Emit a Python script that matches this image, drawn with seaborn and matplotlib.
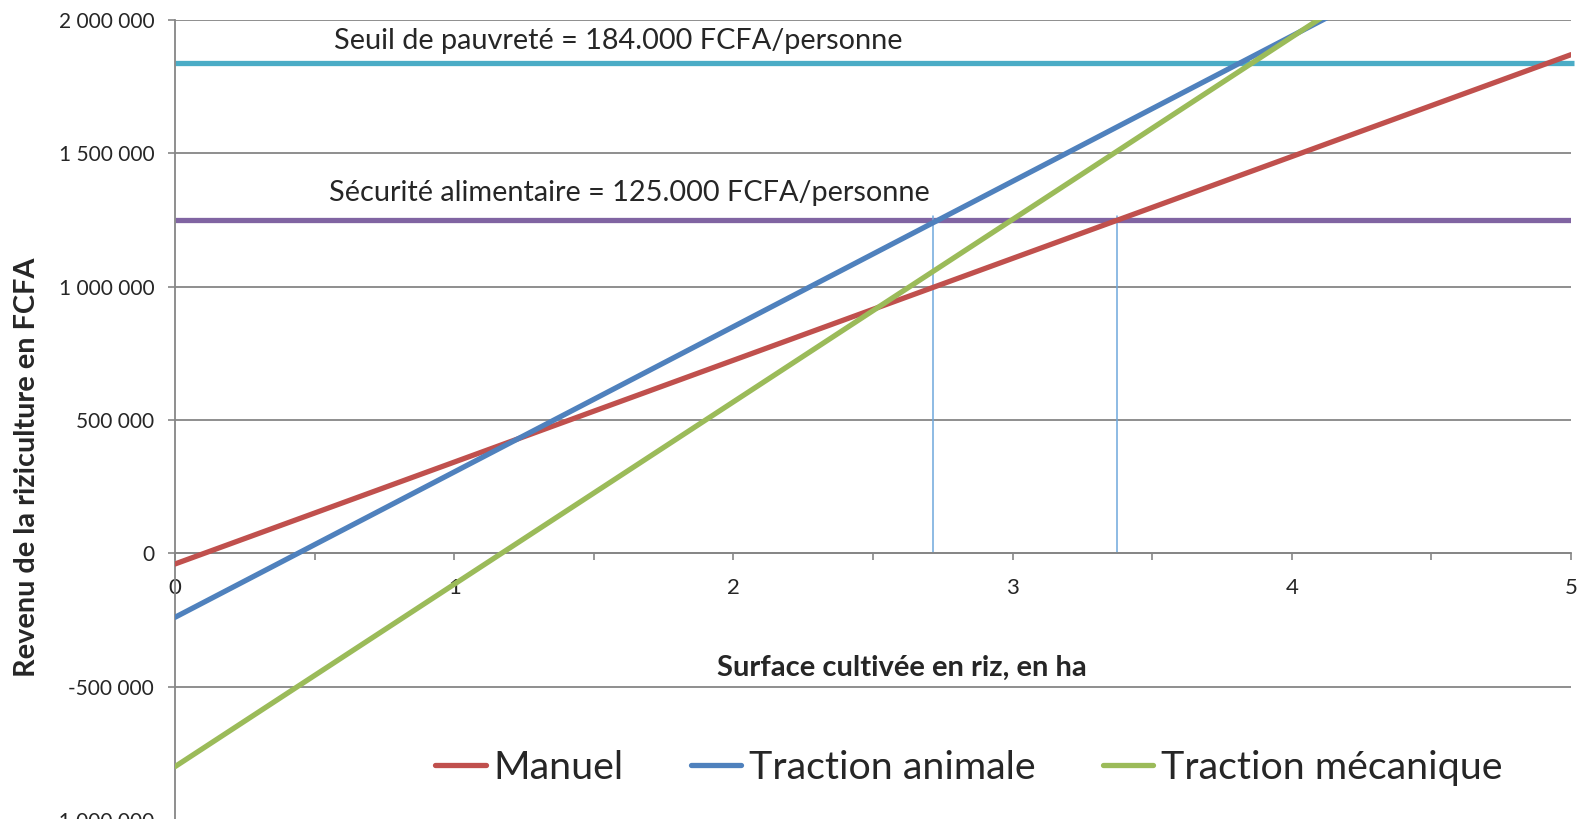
import numpy as np
import pandas as pd
import matplotlib.pyplot as plt
import matplotlib.ticker as mticker
import seaborn as sns

# données (droites : revenu en fonction de la surface)
surface = [0, 5]
manuel = [-40000, 1870000]
traction_animale = [-240000, 2485000]
traction_mecanique = [-800000, 2620000]
series = ['Manuel', 'Traction animale', 'Traction mécanique']
couleurs = ['#C0504D', '#4F81BD', '#9BBB59']

seuil_pauvrete = 1840000
securite_alim = 1250000
# surfaces où Traction animale et Manuel atteignent la sécurité alimentaire
x_securite = [2.715, 3.375]

df = pd.DataFrame({
    'surface': surface * 3,
    'revenu': manuel + traction_animale + traction_mecanique,
    'systeme': [s for s in series for _ in surface],
})

sns.set_style('white')
plt.rcParams['font.family'] = ['Lato', 'DejaVu Sans']

fig = plt.figure(figsize=(15.85, 8.19), dpi=100)
ax = fig.add_axes([0.1104, -0.0012, 0.8808, 0.9768])

sns.lineplot(data=df, x='surface', y='revenu', hue='systeme', palette=couleurs,
             lw=3.8, ax=ax, legend=False, zorder=3)
handles = ax.lines[:3]

ax.hlines(seuil_pauvrete, 0, 5.01, color='#4BACC6', lw=3.8, zorder=2, clip_on=False)
ax.hlines(securite_alim, 0, 5, color='#8064A2', lw=3.8, zorder=2)
for xv in x_securite:
    ax.plot([xv, xv], [securite_alim + 15000, 0], color='#6FA8DC', lw=1.1, zorder=2)

ax.text(0.569, 1923000, 'Seuil de pauvreté = 184.000 FCFA/personne', va='center', fontsize=20.8)
ax.text(0.551, 1351000, 'Sécurité alimentaire = 125.000 FCFA/personne', va='center', fontsize=20.8)

ax.set_xlim(0, 5)
ax.set_ylim(-1000000, 2000000)
ax.set_xticks(range(6))
ax.xaxis.set_minor_locator(mticker.MultipleLocator(0.5))
ax.set_yticks(np.arange(-1000000, 2000001, 500000))
ax.yaxis.set_major_formatter(mticker.FuncFormatter(lambda v, p: f'{v:,.0f}'.replace(',', ' ')))

for s in ['top', 'right']:
    ax.spines[s].set_visible(False)
ax.spines['bottom'].set_position(('data', 0))
for s in ['left', 'bottom']:
    ax.spines[s].set_color('#868686')
    ax.spines[s].set_linewidth(1.3)
ax.grid(axis='y', color='#868686', lw=1.3)
ax.grid(axis='x', visible=False)
ax.tick_params(axis='x', which='both', direction='out', length=5, color='#868686', width=1.2,
               pad=13, labelsize=16, bottom=True)
ax.tick_params(axis='y', direction='out', length=5, color='#868686', width=1.2,
               pad=10, labelsize=15, left=True)

ax.set_xlabel('Surface cultivée en riz, en ha', fontsize=21, fontweight='bold')
ax.xaxis.set_label_coords(0.521, 0.206)
ax.set_ylabel('Revenu de la riziculture en FCFA', fontsize=20.8, fontweight='bold')
ax.yaxis.set_label_coords(-0.097, 0.441)

ax.legend(handles, series, loc='center', bbox_to_anchor=(969 / 1585, 0.0623),
          bbox_transform=fig.transFigure, ncol=3, frameon=False, fontsize=28.4,
          handlelength=1.28, handletextpad=0.2, columnspacing=1.7)

fig.savefig('out.png', dpi=100)
